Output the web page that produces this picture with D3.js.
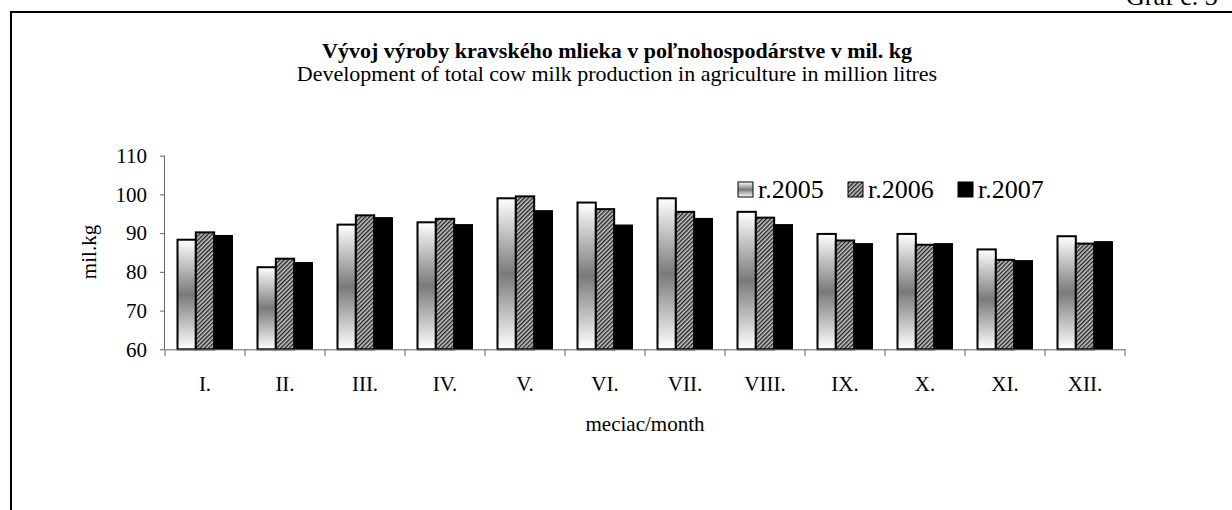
<!DOCTYPE html>
<html><head><meta charset="utf-8">
<script src="https://cdn.jsdelivr.net/npm/d3@7"></script>
<style>body{margin:0;background:#fff}svg{display:block;font-family:"Liberation Serif","Times New Roman",serif}</style>
</head><body>
<svg id="c" width="1232" height="510"></svg>
<script>
const months = ["I.","II.","III.","IV.","V.","VI.","VII.","VIII.","IX.","X.","XI.","XII."];
const seriesNames = ["r.2005","r.2006","r.2007"];
const v2005 = [88.3,81.2,92.2,92.8,99.0,97.9,99.0,95.5,89.8,89.8,85.8,89.2];
const v2006 = [90.2,83.4,94.6,93.7,99.5,96.2,95.5,94.0,88.1,87.0,83.1,87.3];
const v2007 = [89.4,82.4,94.0,92.2,95.8,92.1,93.8,92.2,87.3,87.3,82.9,87.8];
const yTicks = [60,70,80,90,100,110];
const title = "Vývoj výroby kravského mlieka v poľnohospodárstve v mil. kg";
const subtitle = "Development of total cow milk production in agriculture in million litres";

const svg = d3.select("#c");
const defs = svg.append("defs");
const g1 = defs.append("linearGradient").attr("id","grad05").attr("x1",0).attr("y1",0).attr("x2",0).attr("y2",1);
g1.append("stop").attr("offset","0%").attr("stop-color","#ffffff");
g1.append("stop").attr("offset","50%").attr("stop-color","#7a7a7a");
g1.append("stop").attr("offset","100%").attr("stop-color","#ffffff");
const pat = defs.append("pattern").attr("id","hatch06").attr("patternUnits","userSpaceOnUse")
  .attr("width",3).attr("height",3).attr("patternTransform","rotate(45)");
pat.append("rect").attr("width",3).attr("height",3).attr("fill","#c8c8c8");
pat.append("rect").attr("width",1.4).attr("height",3).attr("fill","#222");
const fills = ["url(#grad05)","url(#hatch06)","#000"];

// frame
svg.append("line").attr("x1",11).attr("x2",1232).attr("y1",12).attr("y2",12).attr("stroke","#000").attr("stroke-width",2);
svg.append("line").attr("x1",11).attr("x2",11).attr("y1",11).attr("y2",510).attr("stroke","#000").attr("stroke-width",2);
svg.append("text").attr("x",1126).attr("y",5).attr("font-size",26).text("Graf č. 3");

svg.append("text").attr("x",617).attr("y",58).attr("text-anchor","middle").attr("font-size",22).attr("font-weight","bold").text(title);
svg.append("text").attr("x",617).attr("y",81).attr("text-anchor","middle").attr("font-size",22).text(subtitle);

const x0 = 165, x1 = 1125, yTop = 155.7, yBot = 349.3;
const x = d3.scaleBand().domain(months).range([x0,x1]).paddingInner(0).paddingOuter(0);
const xs = d3.scaleBand().domain(seriesNames).range([12.5, 80-12.5]);
const y = d3.scaleLinear().domain([60,110]).range([yBot,yTop]);

const data = [v2005,v2006,v2007];
const groups = svg.append("g");
seriesNames.forEach((s,si)=>{
  groups.selectAll(".b"+si).data(data[si]).enter().append("rect")
    .attr("x",(d,i)=>x(months[i])+xs(s)).attr("width",xs.bandwidth())
    .attr("y",d=>y(d)).attr("height",d=>yBot-y(d))
    .attr("fill",fills[si]).attr("stroke","#000").attr("stroke-width",si<2?2:1);
});

// y axis
const ya = svg.append("g").attr("transform",`translate(${x0},0)`)
  .call(d3.axisLeft(y).tickValues(yTicks).tickSize(5).tickPadding(13).tickFormat(d3.format("d")));
ya.select(".domain").attr("stroke","#666").attr("d",`M-0.5,${yTop}V${yBot}`);
ya.selectAll(".tick line").attr("stroke","#666");
ya.selectAll("text").attr("font-size",21).attr("font-family","Liberation Serif").attr("fill","#000");

// x axis
const xa = svg.append("g").attr("transform",`translate(0,${yBot})`)
  .call(d3.axisBottom(x).tickSize(0).tickPadding(27));
xa.select(".domain").attr("stroke","#666");
xa.selectAll("text").attr("font-size",21).attr("font-family","Liberation Serif").attr("fill","#000");
xa.selectAll(".bnd").data(d3.range(13)).enter().append("line")
  .attr("x1",i=>x0+i*x.step()).attr("x2",i=>x0+i*x.step()).attr("y1",0).attr("y2",7).attr("stroke","#666");

svg.append("text").attr("x",(x0+x1)/2).attr("y",431).attr("text-anchor","middle").attr("font-size",21).text("meciac/month");
svg.append("text").attr("transform","translate(96,252) rotate(-90)").attr("text-anchor","middle").attr("font-size",21).text("mil.kg");

// legend
const lx = [738, 848, 958];
seriesNames.forEach((s,i)=>{
  svg.append("rect").attr("x",lx[i]).attr("y",182).attr("width",15).attr("height",15)
    .attr("fill",fills[i]).attr("stroke","#000").attr("stroke-width",1);
  svg.append("text").attr("x",lx[i]+20).attr("y",198).attr("font-size",26).text(s);
});
</script>
</body></html>
